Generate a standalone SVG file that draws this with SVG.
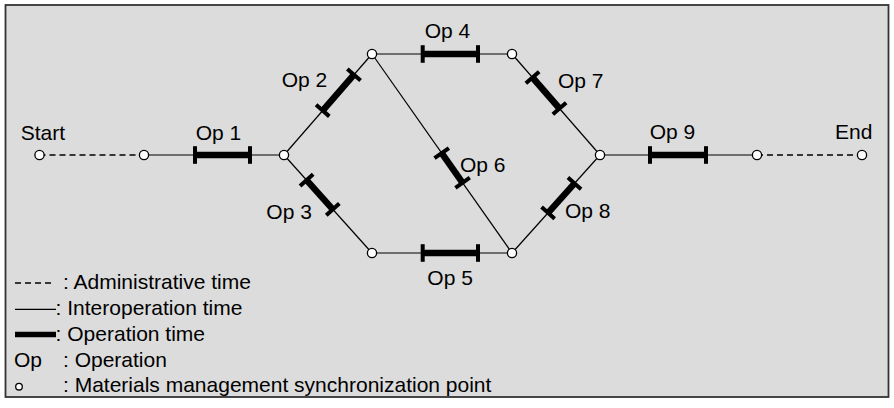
<svg xmlns="http://www.w3.org/2000/svg" width="894" height="408" viewBox="0 0 894 408">
<style>
text{font-family:"Liberation Sans",Arial,sans-serif;font-size:21px;fill:#000}
.thin{stroke:#000;stroke-width:1.2;fill:none}
.dash{stroke:#000;stroke-width:1.5;fill:none;stroke-dasharray:6 4}
.bar{stroke:#000;stroke-width:6.5;fill:none}
.tick{stroke:#000;stroke-width:4;fill:none}
.pt{fill:#fff;stroke:#000;stroke-width:1.3}
</style>
<defs>
<g id="t"><line class="tick" x1="0" y1="-8.8" x2="0" y2="8.8"/></g>
</defs>
<rect x="5.5" y="5" width="883" height="392" fill="#dcdcdc" stroke="#333" stroke-width="1.8"/>
<g id="connectors">
<line class="dash" x1="39.5" y1="155" x2="144" y2="155"/>
<line class="thin" x1="144" y1="155" x2="284" y2="155"/>
<line class="thin" x1="284" y1="155" x2="372" y2="54"/>
<line class="thin" x1="284" y1="155" x2="372" y2="253"/>
<line class="thin" x1="372" y1="54" x2="512" y2="54"/>
<line class="thin" x1="372" y1="253" x2="512" y2="253"/>
<line class="thin" x1="372" y1="54" x2="512" y2="253"/>
<line class="thin" x1="512" y1="54" x2="600" y2="155"/>
<line class="thin" x1="512" y1="253" x2="600" y2="155"/>
<line class="thin" x1="600" y1="155" x2="757" y2="155"/>
<line class="dash" x1="757" y1="155" x2="862" y2="155"/>
</g>
<g id="op1"><g transform="translate(195,155)"><line class="bar" x1="0" y1="0" x2="55" y2="0"/><use href="#t"/><use href="#t" x="55"/></g><text x="195.7" y="139.5">Op 1</text></g>
<g id="op2"><g transform="translate(322.7,110.6) rotate(-48.94)"><line class="bar" x1="0" y1="0" x2="47.6" y2="0"/><use href="#t"/><use href="#t" x="47.6"/></g><text x="281.7" y="86.7">Op 2</text></g>
<g id="op3"><g transform="translate(306.6,180.2) rotate(48.07)"><line class="bar" x1="0" y1="0" x2="39.2" y2="0"/><use href="#t"/><use href="#t" x="39.2"/></g><text x="266.3" y="219">Op 3</text></g>
<g id="op4"><g transform="translate(422.7,54)"><line class="bar" x1="0" y1="0" x2="55.3" y2="0"/><use href="#t"/><use href="#t" x="55.3"/></g><text x="424.7" y="37.5">Op 4</text></g>
<g id="op5"><g transform="translate(422.7,253)"><line class="bar" x1="0" y1="0" x2="55.3" y2="0"/><use href="#t"/><use href="#t" x="55.3"/></g><text x="427.3" y="285">Op 5</text></g>
<g id="op6"><g transform="translate(441.7,153.1) rotate(54.87)"><line class="bar" x1="0" y1="0" x2="36.3" y2="0"/><use href="#t"/><use href="#t" x="36.3"/></g><text x="460" y="171.7">Op 6</text></g>
<g id="op7"><g transform="translate(532.5,77.5) rotate(48.94)"><line class="bar" x1="0" y1="0" x2="41.1" y2="0"/><use href="#t"/><use href="#t" x="41.1"/></g><text x="558" y="88.3">Op 7</text></g>
<g id="op8"><g transform="translate(548.1,212.8) rotate(-48.07)"><line class="bar" x1="0" y1="0" x2="39.5" y2="0"/><use href="#t"/><use href="#t" x="39.5"/></g><text x="565" y="218.3">Op 8</text></g>
<g id="op9"><g transform="translate(650,155)"><line class="bar" x1="0" y1="0" x2="56" y2="0"/><use href="#t"/><use href="#t" x="56"/></g><text x="649.7" y="139.3">Op 9</text></g>
<g id="n0"><circle class="pt" cx="39.5" cy="155" r="4.6"/><text x="20.7" y="139.5">Start</text></g>
<g id="n1"><circle class="pt" cx="144" cy="155" r="4.6"/></g>
<g id="n2"><circle class="pt" cx="284" cy="155" r="4.6"/></g>
<g id="n3"><circle class="pt" cx="372" cy="54" r="4.6"/></g>
<g id="n4"><circle class="pt" cx="512" cy="54" r="4.6"/></g>
<g id="n5"><circle class="pt" cx="372" cy="253" r="4.6"/></g>
<g id="n6"><circle class="pt" cx="512" cy="253" r="4.6"/></g>
<g id="n7"><circle class="pt" cx="600" cy="155" r="4.6"/></g>
<g id="n8"><circle class="pt" cx="757" cy="155" r="4.6"/></g>
<g id="n9"><circle class="pt" cx="862" cy="155" r="4.6"/><text x="835" y="139.3">End</text></g>
<g id="legend">
<line class="dash" x1="15" y1="283" x2="52" y2="283"/>
<text x="63" y="289">: Administrative time</text>
<line class="thin" x1="15" y1="309.3" x2="56" y2="309.3"/>
<text x="55.6" y="315">: Interoperation time</text>
<line stroke="#000" stroke-width="5.5" x1="15" y1="334.5" x2="56" y2="334.5"/>
<text x="55.6" y="341">: Operation time</text>
<text x="14" y="366.5">Op</text>
<text x="63" y="366.5">: Operation</text>
<circle class="pt" cx="19" cy="386.7" r="3.3"/>
<text x="63" y="392">: Materials management synchronization point</text>
</g>
</svg>
